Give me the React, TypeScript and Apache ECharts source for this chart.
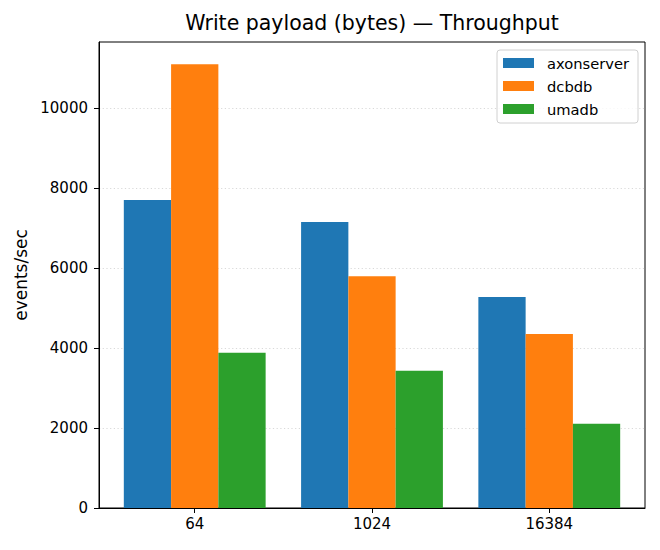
import React, { useEffect, useRef } from "react";
import * as echarts from "echarts";

const categories = ["64", "1024", "16384"];
const seriesNames = ["axonserver", "dcbdb", "umadb"];
const axonserver = [7708, 7158, 5283];
const dcbdb = [11108, 5800, 4358];
const umadb = [3883, 3433, 2108];
const colors = ["#1f77b4", "#ff7f0e", "#2ca02c"];
const yTicks = [0, 2000, 4000, 6000, 8000, 10000];

const FONT = "DejaVu Sans";

export default function App() {
  const ref = useRef<HTMLDivElement>(null);
  useEffect(() => {
    if (!ref.current) return;
    const chart = echarts.init(ref.current, null, { renderer: "svg" });
    const all = [axonserver, dcbdb, umadb];
    const gridLeft = 99;
    const gridRight = 15;
    const plotW = 660 - gridLeft - gridRight;
    const groupW = 0.8;
    const n = all.length;
    const w = groupW / n;
    const span = categories.length - 1 + groupW;
    const xMin = -groupW / 2 - 0.05 * span;
    const xMax = categories.length - 1 + groupW / 2 + 0.05 * span;
    const barPx = (plotW / (xMax - xMin)) * w;
    const maxV = Math.max(...all.flat());
    const yMax = maxV * 1.05;
    const catIdx = categories.map((_, i) => i);

    chart.setOption({
      animation: false,
      textStyle: { fontFamily: FONT },
      title: {
        text: "Write payload (bytes) — Throughput",
        left: gridLeft + plotW / 2,
        textAlign: "center",
        top: 12,
        padding: 0,
        textStyle: { fontFamily: FONT, fontSize: 20.5, fontWeight: "normal", color: "#000" },
      },
      legend: {
        orient: "vertical",
        left: 497,
        top: 50,
        padding: [5, 9, 6, 6],
        itemWidth: 31,
        itemHeight: 10,
        itemGap: 7,
        backgroundColor: "rgba(255,255,255,0.8)",
        borderColor: "#d0d0d0",
        borderWidth: 1,
        borderRadius: 3,
        icon: "rect",
        data: seriesNames,
        textStyle: {
          fontFamily: FONT,
          fontSize: 14.7,
          color: "#000",
          lineHeight: 16,
          padding: [0, 0, 0, 8],
        },
      },
      grid: {
        left: gridLeft,
        right: gridRight,
        top: 42,
        bottom: 42,
        show: true,
        borderColor: "#000",
        borderWidth: 1,
        backgroundColor: "transparent",
      },
      xAxis: {
        type: "value",
        min: xMin,
        max: xMax,
        axisLine: { show: true, onZero: false, lineStyle: { color: "#000", width: 1 } },
        axisTick: { show: true, length: 5, lineStyle: { color: "#000" }, customValues: catIdx },
        axisLabel: {
          customValues: catIdx,
          formatter: (v: number) => categories[Math.round(v)] ?? "",
          color: "#000",
          fontFamily: FONT,
          fontSize: 15,
          margin: 8,
        },
        splitLine: { show: false },
      },
      yAxis: {
        type: "value",
        min: 0,
        max: yMax,
        name: "events/sec",
        nameLocation: "middle",
        nameGap: 67,
        nameTextStyle: { fontFamily: FONT, fontSize: 17, color: "#000" },
        axisLine: { show: true, onZero: false, lineStyle: { color: "#000", width: 1 } },
        axisTick: { show: true, length: 5, lineStyle: { color: "#000" }, customValues: yTicks },
        axisLabel: {
          customValues: yTicks,
          formatter: (v: number) => String(v),
          color: "#000",
          fontFamily: FONT,
          fontSize: 15,
          margin: 11,
        },
        splitLine: {
          show: true,
          lineStyle: { color: "#d5d5d5", type: [1.2, 2.5], width: 0.9 },
        },
      },
      series: all.map((vals, j) => ({
        name: seriesNames[j],
        type: "bar",
        barWidth: barPx,
        barGap: "-100%",
        itemStyle: { color: colors[j] },
        data: vals.map((v, i) => [i + (j - (n - 1) / 2) * w, v]),
      })),
    });
    return () => chart.dispose();
  }, []);
  return (
    <div
      ref={ref}
      style={{ position: "fixed", left: 0, top: 0, width: 660, height: 550, background: "#fff" }}
    />
  );
}
